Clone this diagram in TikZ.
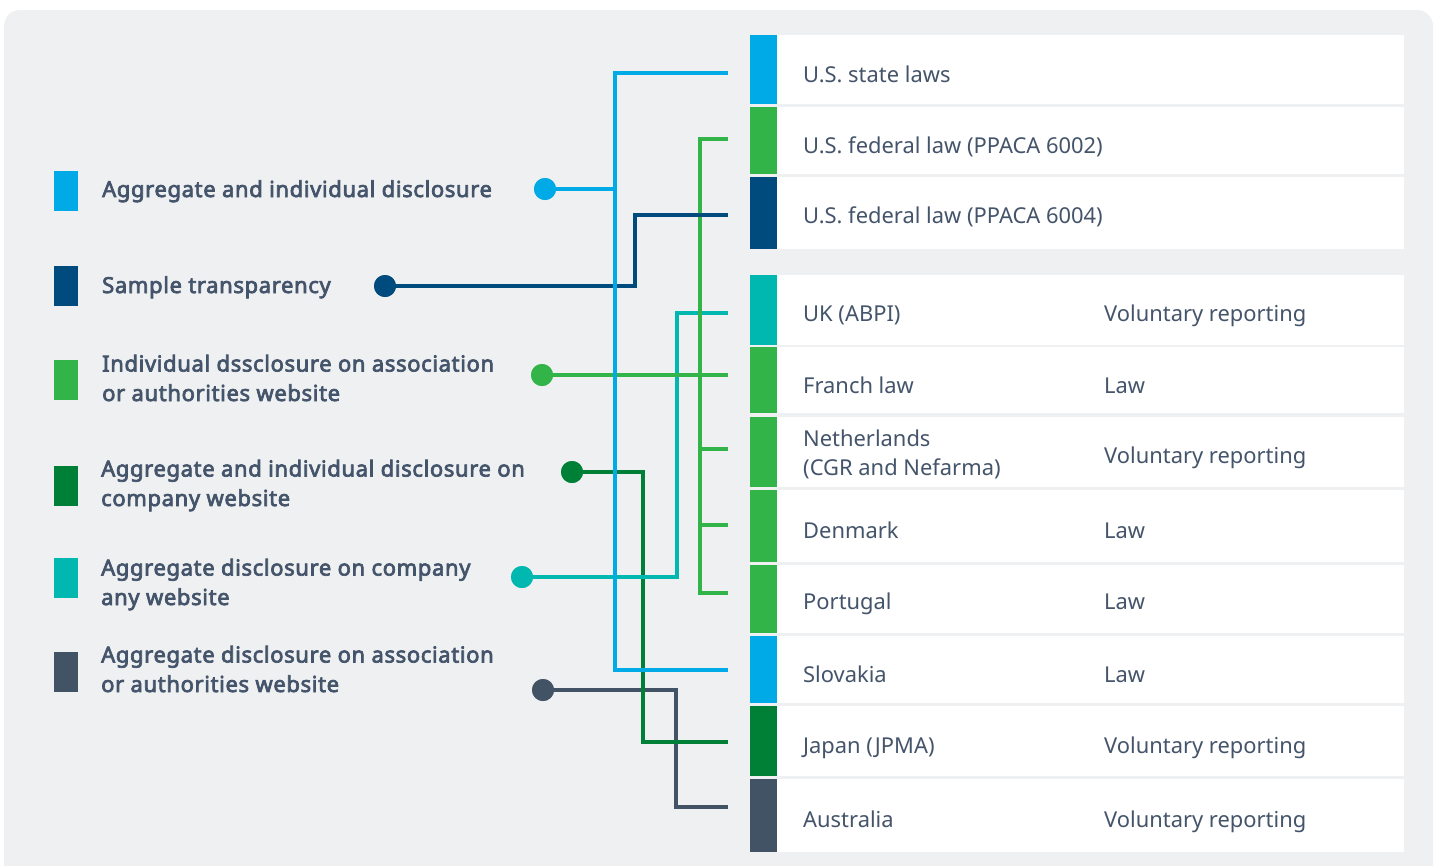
\documentclass[tikz,border=0pt]{standalone}
\usepackage{fontspec}
\setmainfont{Noto Sans}
\newfontfamily\legfont{Noto Sans}[FakeBold=3.2, LetterSpace=2.9]
\definecolor{lblue}{HTML}{00AAE7}
\definecolor{cgreen}{HTML}{33B449}
\definecolor{dblue}{HTML}{004B7D}
\definecolor{dgreen}{HTML}{007F36}
\definecolor{cteal}{HTML}{00B8AF}
\definecolor{slate}{HTML}{435366}
\definecolor{txt}{HTML}{44546A}
\definecolor{bgc}{HTML}{EFF0F2}
\tikzset{
  rowbox/.style={fill=white, draw=none, minimum width=654pt, inner sep=0pt, outer sep=0pt},
  stripe/.style={draw=none, minimum width=27pt, inner sep=0pt, outer sep=0pt},
  legsq/.style={draw=none, minimum width=24pt, minimum height=40pt, inner sep=0pt},
  legtxt/.style={anchor=base west, inner sep=0pt, align=left, text=txt, font=\legfont\fontsize{22}{29.5}\selectfont},
  celltxt/.style={anchor=base west, inner sep=0pt, align=left, text=txt, font=\fontsize{21.9}{29}\selectfont},
  dot/.style={circle, minimum size=22pt, inner sep=0pt, outer sep=0pt},
  conn/.style={line width=4pt},
}
\begin{document}
\begin{tikzpicture}[x=1pt, y=-1pt]
\useasboundingbox (0,0) rectangle (1437,865);
\begin{scope}
\clip (0,0) rectangle (1437,865);
\fill[white] (0,0) rectangle (1437,865);
\fill[bgc, rounded corners=16pt] (4,10) rectangle (1433,900);
\end{scope}

% table rows
\foreach \n/\t/\b/\c in {r1/35/104/lblue, r2/107/174/cgreen, r3/177/249/dblue,
  r4/275/345/cteal, r5/347/413/cgreen, r6/417/487/cgreen, r7/490/562/cgreen,
  r8/565/633/cgreen, r9/636/703/lblue, r10/706/776/dgreen, r11/779/852/slate}{
  \pgfmathsetmacro{\h}{\b-\t}
  \pgfmathsetmacro{\m}{(\b+\t)/2}
  \node[rowbox, minimum height=\h pt] (\n) at (1077,\m) {};
  \node[stripe, fill=\c, minimum height=\h pt] (s\n) at (763.5,\m) {};
}

% table texts
\node[celltxt] (t1) at (803,82) {U.S. state laws};
\node[celltxt] (t2) at (803,153) {U.S. federal law (PPACA 6002)};
\node[celltxt] (t3) at (803,223) {U.S. federal law (PPACA 6004)};
\node[celltxt] (t4) at (803,321) {UK (ABPI)};
\node[celltxt] (u4) at (1104,321) {Voluntary reporting};
\node[celltxt] (t5) at (803,393) {Franch law};
\node[celltxt] (u5) at (1104,393) {Law};
\node[celltxt] (t6) at (803,475) {Netherlands\\(CGR and Nefarma)};
\node[celltxt] (u6) at (1104,463) {Voluntary reporting};
\node[celltxt] (t7) at (803,538) {Denmark};
\node[celltxt] (u7) at (1104,538) {Law};
\node[celltxt] (t8) at (803,609) {Portugal};
\node[celltxt] (u8) at (1104,609) {Law};
\node[celltxt] (t9) at (803,682) {Slovakia};
\node[celltxt] (u9) at (1104,682) {Law};
\node[celltxt] (t10) at (803,753) {Japan (JPMA)};
\node[celltxt] (u10) at (1104,753) {Voluntary reporting};
\node[celltxt] (t11) at (803,827) {Australia};
\node[celltxt] (u11) at (1104,827) {Voluntary reporting};

% legend
\node[legsq, fill=lblue] (q1) at (66,191) {};
\node[legsq, fill=dblue] (q2) at (66,286) {};
\node[legsq, fill=cgreen] (q3) at (66,380) {};
\node[legsq, fill=dgreen] (q4) at (66,486) {};
\node[legsq, fill=cteal] (q5) at (66,578) {};
\node[legsq, fill=slate] (q6) at (66,672) {};
\node[legtxt] (l1) at (102,197) {Aggregate and individual disclosure};
\node[legtxt] (l2) at (102,293) {Sample transparency};
\node[legtxt] (l3) at (102,401) {Individual dssclosure on association\\or authorities website};
\node[legtxt] (l4) at (101,506) {Aggregate and individual disclosure on\\company website};
\node[legtxt] (l5) at (101,605) {Aggregate disclosure on company\\any website};
\node[legtxt] (l6) at (101,692) {Aggregate disclosure on association\\or authorities website};

% connector end points
\coordinate (e1) at (728,73);
\coordinate (e2) at (728,139);
\coordinate (e3) at (728,215);
\coordinate (e4) at (728,313);
\coordinate (e5) at (728,375);
\coordinate (e6) at (728,449);
\coordinate (e7) at (728,525);
\coordinate (e8) at (728,593);
\coordinate (e9) at (728,670);
\coordinate (e10) at (728,742);
\coordinate (e11) at (728,807);

% dots
\node[dot, fill=lblue] (d1) at (545,189) {};
\node[dot, fill=dblue] (d2) at (385,286) {};
\node[dot, fill=cgreen] (d3) at (542,375) {};
\node[dot, fill=dgreen] (d4) at (572,472) {};
\node[dot, fill=cteal] (d5) at (522,577) {};
\node[dot, fill=slate] (d6) at (543,690) {};

% connectors
\draw[conn, slate] (d6.center) -- (676,690) |- (e11);
\draw[conn, dgreen] (d4.center) -- (643,472) |- (e10);
\draw[conn, cteal] (d5.center) -- (677,577) |- (e4);
\draw[conn, cgreen] (e2) -| (700,593) -- (e8);
\draw[conn, cgreen] (700,449) -- (e6);
\draw[conn, cgreen] (700,525) -- (e7);
\draw[conn, cgreen] (d3.center) -- (e5);
\draw[conn, dblue] (d2.center) -- (635,286) |- (e3);
\draw[conn, lblue] (e1) -| (615,670) -- (e9);
\draw[conn, lblue] (d1.center) -- (615,189);
\node[dot, fill=lblue] at (d1) {};
\node[dot, fill=dblue] at (d2) {};
\node[dot, fill=cgreen] at (d3) {};
\node[dot, fill=dgreen] at (d4) {};
\node[dot, fill=cteal] at (d5) {};
\node[dot, fill=slate] at (d6) {};
\end{tikzpicture}
\end{document}
